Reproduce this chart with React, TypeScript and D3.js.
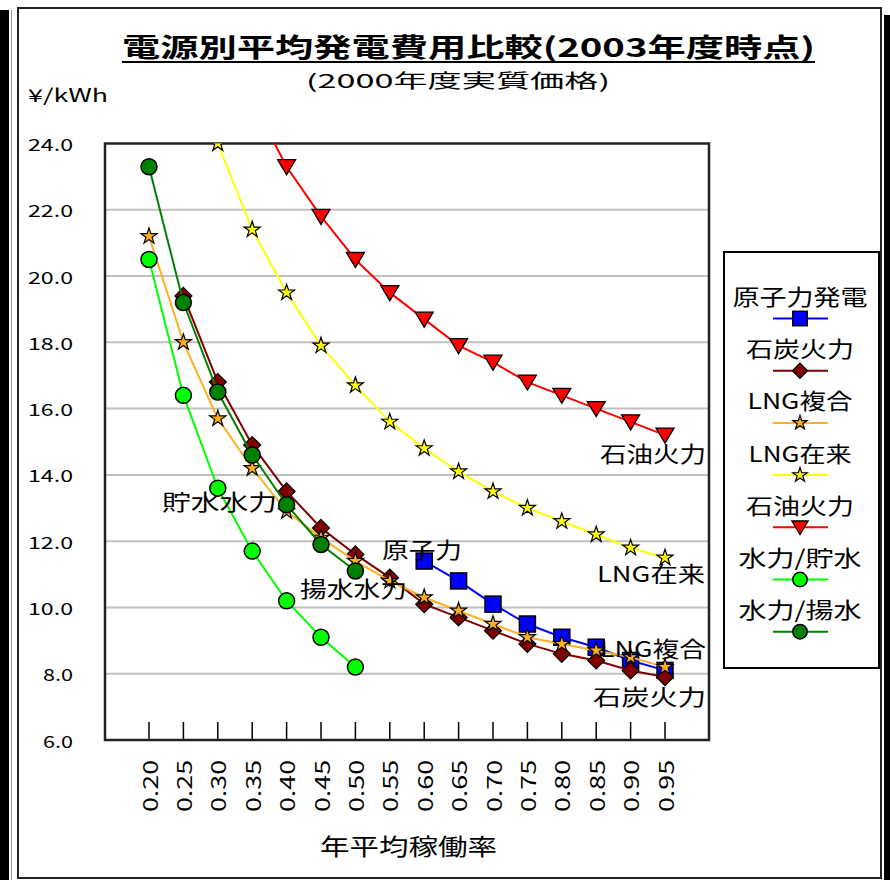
import React from "react";
import * as d3 from "d3";

// Annual average capacity factor categories
const rates = ["0.20", "0.25", "0.30", "0.35", "0.40", "0.45", "0.50", "0.55", "0.60", "0.65", "0.70", "0.75", "0.80", "0.85", "0.90", "0.95"];
const yTicks = [6, 8, 10, 12, 14, 16, 18, 20, 22, 24];

// Generation cost (yen/kWh) by capacity factor; null = not plotted
const nuclear = [null, null, null, null, null, null, null, null, 11.4, 10.8, 10.1, 9.5, 9.1, 8.8, 8.4, 8.1];
const coal = [null, 19.4, 16.8, 14.9, 13.5, 12.4, 11.6, 10.9, 10.1, 9.7, 9.3, 8.9, 8.6, 8.4, 8.1, 7.9];
const lngCombined = [21.2, 18.0, 15.7, 14.2, 12.9, 12.1, 11.4, 10.8, 10.3, 9.9, 9.5, 9.1, 8.9, 8.7, 8.5, 8.2];
const lngConventional = [null, null, 24.0, 21.4, 19.5, 17.9, 16.7, 15.6, 14.8, 14.1, 13.5, 13.0, 12.6, 12.2, 11.8, 11.5];
const oil = [null, null, null, 25.3, 23.3, 21.8, 20.5, 19.5, 18.7, 17.9, 17.4, 16.8, 16.4, 16.0, 15.6, 15.2];
const hydroReservoir = [20.5, 16.4, 13.6, 11.7, 10.2, 9.1, 8.2, null, null, null, null, null, null, null, null, null];
const hydroPumped = [23.3, 19.2, 16.5, 14.6, 13.1, 11.9, 11.1, null, null, null, null, null, null, null, null, null];

const seriesNames = ["原子力発電", "石炭火力", "LNG複合", "LNG在来", "石油火力", "水力/貯水", "水力/揚水"];
const seriesValues = [nuclear, coal, lngCombined, lngConventional, oil, hydroReservoir, hydroPumped];
const lineColors = ["#0000ff", "#800000", "#ffb020", "#ffff00", "#ff0000", "#00ff00", "#008000"];
const markerFills = ["#0000ff", "#800000", "#ffb020", "#ffff00", "#ff0000", "#00ff00", "#008000"];
const markerKinds = ["square", "diamond", "star", "star", "triangle", "circle", "circle"];

// In-plot annotations
const annotations = [
  { text: "石油火力", x: 600, y: 452, w: 106 },
  { text: "LNG在来", x: 597, y: 572, w: 108 },
  { text: "LNG複合", x: 600, y: 647, w: 106 },
  { text: "石炭火力", x: 593, y: 695, w: 113 },
  { text: "原子力", x: 382, y: 548, w: 80 },
  { text: "貯水水力", x: 162, y: 500, w: 115 },
  { text: "揚水水力", x: 300, y: 587, w: 107 },
];
const legendTextWidths = [135, 108, 105, 103, 108, 123, 123];

const FONT = "'Noto Sans CJK JP', 'Noto Sans', sans-serif";

const plot = { left: 105, right: 709, top: 143.5, bottom: 740 };

const x = d3.scaleLinear().domain([0.2, 0.95]).range([149, 665]);
const y = d3.scaleLinear().domain([6, 24]).range([plot.bottom, plot.top]);
const rateValue = (i: number) => +rates[i];

function Txt(props: {
  x: number; y: number; w: number; size: number; anchor?: string; weight?: number | string;
  children: React.ReactNode; transform?: string;
}) {
  const { x, y, w, size, anchor = "start", weight = 400, children, transform } = props;
  return (
    <text
      x={x}
      y={y}
      fontSize={size}
      fontWeight={weight}
      fontFamily={FONT}
      textAnchor={anchor}
      dominantBaseline="central"
      textLength={w}
      lengthAdjust="spacingAndGlyphs"
      fill="#000"
      transform={transform}
    >
      {children}
    </text>
  );
}

function Marker({ kind, cx, cy, fill, scale = 1 }: { kind: string; cx: number; cy: number; fill: string; scale?: number }) {
  const s = scale;
  if (kind === "square") {
    return <rect x={cx - 8 * s} y={cy - 8 * s} width={16 * s} height={16 * s} fill={fill} stroke="#000" strokeWidth={1.5} />;
  }
  if (kind === "diamond") {
    const r = 8.5 * s;
    return <path d={`M${cx},${cy - r}L${cx + r},${cy}L${cx},${cy + r}L${cx - r},${cy}Z`} fill={fill} stroke="#000" strokeWidth={1.2} />;
  }
  if (kind === "triangle") {
    return (
      <path
        d={`M${cx - 9 * s},${cy - 7 * s}L${cx + 9 * s},${cy - 7 * s}L${cx},${cy + 8 * s}Z`}
        fill={fill}
        stroke="#000"
        strokeWidth={1.3}
      />
    );
  }
  if (kind === "circle") {
    return <circle cx={cx} cy={cy} r={8 * s} fill={fill} stroke="#000" strokeWidth={1.5} />;
  }
  const star = d3.symbol().type(d3.symbolStar).size(80 * s * s)();
  return <path d={star || ""} transform={`translate(${cx},${cy})`} fill={fill} stroke="#000" strokeWidth={1.2} />;
}

export default function App() {
  const line = d3
    .line<number | null>()
    .defined((d) => d != null)
    .x((_, i) => x(rateValue(i)))
    .y((d) => y(d as number));

  return (
    <div style={{ position: "absolute", left: 0, top: 0 }}>
      <svg width={890} height={880} style={{ display: "block", background: "#fff" }}>
        <defs>
          <clipPath id="plotClip">
            <rect x={plot.left} y={plot.top} width={plot.right - plot.left} height={plot.bottom - plot.top} />
          </clipPath>
        </defs>

        {/* window frame */}
        <rect x={0} y={10} width={9} height={870} fill="#000" />
        <line x1={11.5} y1={10} x2={11.5} y2={880} stroke="#999" strokeWidth={1} />
        <rect x={884} y={15} width={6} height={865} fill="#000" />
        <rect x={18} y={8} width={863} height={870} fill="#fff" stroke="#222" strokeWidth={2} />

        {/* titles */}
        <Txt x={122} y={45} w={693} size={26} weight={700}>電源別平均発電費用比較(2003年度時点)</Txt>
        <line x1={122} y1={62} x2={815} y2={62} stroke="#000" strokeWidth={2} />
        <Txt x={306} y={79} w={304} size={19}>(2000年度実質価格)</Txt>
        <Txt x={28} y={94} w={80} size={18}>¥/kWh</Txt>

        {/* plot area */}
        <rect x={plot.left} y={plot.top} width={plot.right - plot.left} height={plot.bottom - plot.top} fill="#fff" />
        {yTicks.slice(1, -1).map((t) => (
          <line key={t} x1={plot.left} x2={plot.right} y1={y(t)} y2={y(t)} stroke="#c0c0c0" strokeWidth={2} />
        ))}
        {rates.map((r, i) => (
          <line key={r} x1={x(rateValue(i))} x2={x(rateValue(i))} y1={plot.bottom - 18} y2={plot.bottom} stroke="#000" strokeWidth={1.5} />
        ))}
        <rect
          x={plot.left}
          y={plot.top}
          width={plot.right - plot.left}
          height={plot.bottom - plot.top}
          fill="none"
          stroke="#222"
          strokeWidth={2.5}
        />

        {/* y axis labels */}
        {yTicks.map((t) => {
          const label = t.toFixed(1);
          return (
            <Txt key={t} x={73} y={y(t)} w={label.length === 4 ? 45 : 30} size={17} anchor="end">
              {label}
            </Txt>
          );
        })}

        {/* x axis labels */}
        {rates.map((r, i) => (
          <Txt
            key={r}
            x={0}
            y={0}
            w={52}
            size={20}
            anchor="end"
            transform={`translate(${x(rateValue(i))},760) rotate(-90)`}
          >
            {r}
          </Txt>
        ))}
        <Txt x={320} y={845} w={177} size={23}>年平均稼働率</Txt>

        {/* series */}
        <g clipPath="url(#plotClip)">
          {seriesValues.map((vals, si) => (
            <g key={seriesNames[si]}>
              <path d={line(vals) || ""} fill="none" stroke={lineColors[si]} strokeWidth={2} />
              {vals.map((v, i) =>
                v == null ? null : (
                  <Marker key={i} kind={markerKinds[si]} cx={x(rateValue(i))} cy={y(v)} fill={markerFills[si]} />
                )
              )}
            </g>
          ))}
        </g>

        {/* annotations */}
        {annotations.map((a) => (
          <Txt key={a.text} x={a.x} y={a.y} w={a.w} size={22}>
            {a.text}
          </Txt>
        ))}

        {/* legend */}
        <rect x={724} y={252} width={155} height={416} fill="#fff" stroke="#000" strokeWidth={2} />
        {seriesNames.map((name, si) => {
          const ty = 295 + si * 52.2;
          const ly = ty + 23.5;
          return (
            <g key={name}>
              <Txt x={800} y={ty} w={legendTextWidths[si]} size={22} anchor="middle">
                {name}
              </Txt>
              <line x1={773} x2={828} y1={ly} y2={ly} stroke={lineColors[si]} strokeWidth={2} />
              <Marker kind={markerKinds[si]} cx={800} cy={ly} fill={markerFills[si]} scale={0.9} />
            </g>
          );
        })}
      </svg>
    </div>
  );
}
